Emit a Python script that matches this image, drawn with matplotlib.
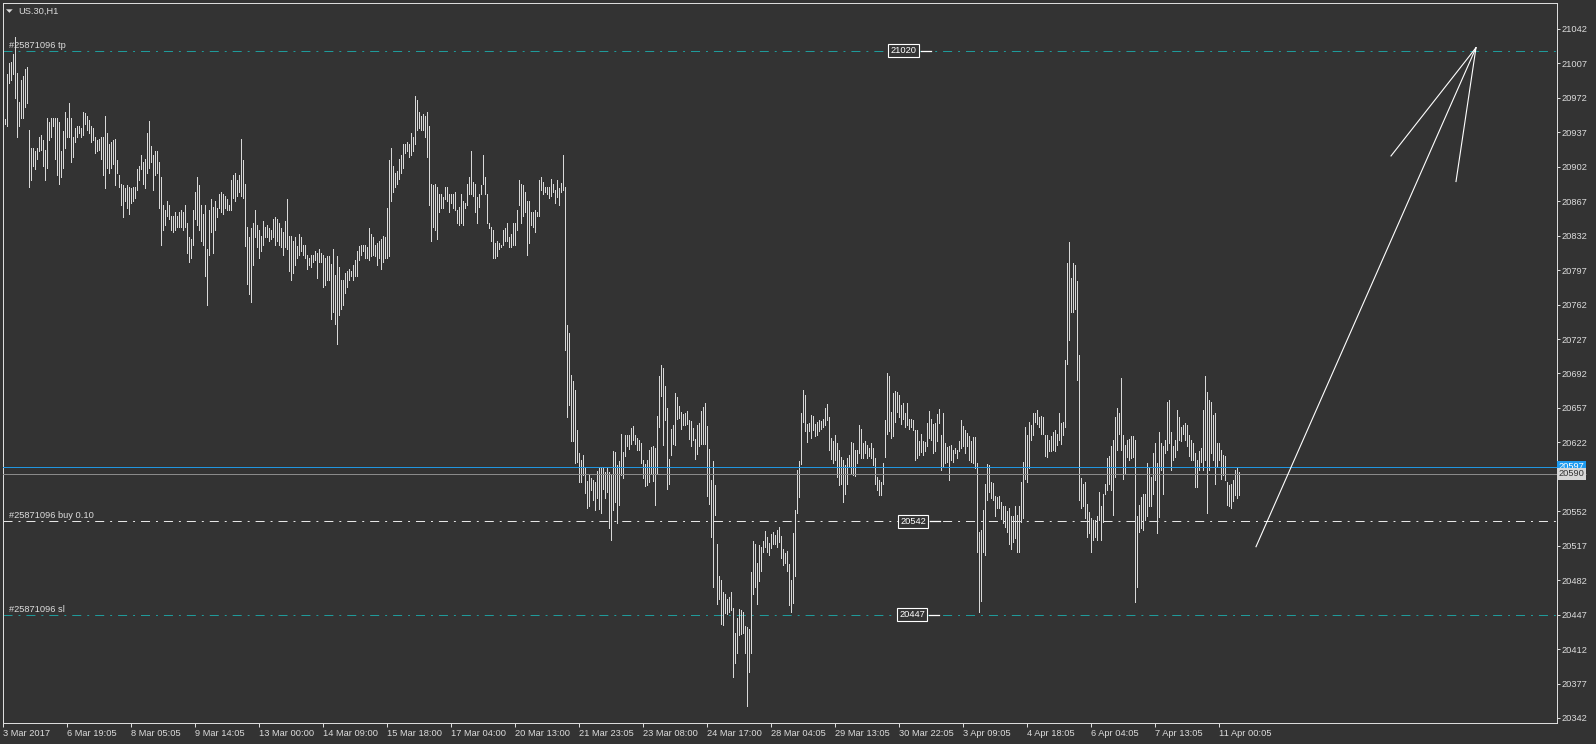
import matplotlib
matplotlib.use('Agg')
import matplotlib.pyplot as plt
import matplotlib.transforms as mtransforms
from matplotlib.patches import Polygon
from matplotlib import rcParams

rcParams['font.family'] = ['Liberation Sans', 'DejaVu Sans']
rcParams['font.size'] = 6.7
rcParams['lines.scale_dashes'] = False

symbol = 'US.30,H1'
order_id = '#25871096'
tp_price = 21020
open_price = 20542
sl_price = 20447
ask_price = 20597
bid_price = 20590

# H1 bar highs / lows, oldest first
bar_high = [
    20958, 20951, 20996, 21007, 21008, 21017, 21034, 20997, 20968, 20990, 20994, 21001,
    21003, 20939, 20921, 20921, 20918, 20921, 20932, 20934, 20929, 20919, 20952, 20947,
    20952, 20952, 20952, 20952, 20947, 20918, 20938, 20958, 20952, 20967, 20952, 20932,
    20941, 20943, 20943, 20941, 20958, 20957, 20954, 20950, 20943, 20941, 20932, 20929,
    20930, 20932, 20932, 20954, 20936, 20925, 20927, 20929, 20930, 20909, 20894, 20885,
    20883, 20880, 20883, 20881, 20880, 20881, 20881, 20900, 20903, 20914, 20907, 20910,
    20936, 20948, 20923, 20914, 20918, 20918, 20907, 20892, 20863, 20858, 20867, 20863,
    20852, 20852, 20856, 20852, 20856, 20858, 20856, 20863, 20845, 20831, 20829, 20858,
    20876, 20892, 20883, 20863, 20854, 20863, 20818, 20858, 20869, 20861, 20867, 20860,
    20874, 20876, 20874, 20872, 20869, 20863, 20889, 20894, 20896, 20889, 20894, 20930,
    20909, 20885, 20841, 20831, 20840, 20845, 20858, 20843, 20838, 20832, 20847, 20841,
    20843, 20840, 20838, 20849, 20851, 20849, 20845, 20840, 20836, 20847, 20869, 20832,
    20832, 20827, 20831, 20822, 20834, 20831, 20823, 20823, 20812, 20809, 20812, 20812,
    20816, 20814, 20818, 20814, 20812, 20809, 20811, 20811, 20803, 20818, 20792, 20811,
    20800, 20787, 20787, 20794, 20796, 20798, 20796, 20802, 20807, 20816, 20822, 20823,
    20823, 20823, 20820, 20840, 20834, 20831, 20823, 20825, 20827, 20829, 20832, 20831,
    20860, 20909, 20921, 20903, 20896, 20898, 20910, 20914, 20925, 20925, 20927, 20925,
    20936, 20932, 20974, 20970, 20958, 20954, 20956, 20954, 20958, 20943, 20885, 20883,
    20885, 20881, 20874, 20874, 20871, 20881, 20881, 20874, 20874, 20874, 20876, 20858,
    20861, 20874, 20867, 20865, 20885, 20892, 20918, 20887, 20885, 20871, 20874, 20883,
    20914, 20892, 20874, 20845, 20841, 20838, 20825, 20827, 20825, 20823, 20838, 20840,
    20845, 20831, 20834, 20845, 20845, 20858, 20889, 20885, 20883, 20876, 20867, 20867,
    20856, 20856, 20858, 20856, 20889, 20892, 20887, 20881, 20881, 20881, 20890, 20885,
    20878, 20889, 20880, 20886, 20914,
    20881, 20741, 20733, 20690, 20684, 20675, 20635, 20611, 20604, 20609, 20596, 20583,
    20589, 20586, 20584, 20582, 20593, 20597, 20597, 20596, 20592, 20597, 20592, 20590,
    20613, 20612, 20599, 20603, 20631, 20612, 20629, 20630, 20630, 20637, 20639, 20630,
    20626, 20624, 20621, 20604, 20600, 20604, 20614, 20617, 20618, 20616, 20649, 20689,
    20701, 20698, 20679, 20657, 20605, 20636, 20640, 20672, 20668, 20659, 20653, 20651,
    20652, 20654, 20645, 20644, 20637, 20625, 20640, 20642, 20654, 20658, 20662, 20639,
    20615, 20584, 20603, 20579, 20519, 20486, 20482, 20470, 20468, 20463, 20465, 20470,
    20454, 20428, 20444, 20453, 20452, 20450, 20435, 20434, 20432, 20490, 20522, 20519,
    20499, 20518, 20516, 20522, 20532, 20526, 20520, 20529, 20531, 20528, 20533, 20536,
    20527, 20514, 20510, 20512, 20498, 20482, 20530, 20553, 20594, 20603, 20652, 20675,
    20670, 20641, 20642,
    20650, 20649, 20641, 20643, 20645, 20644, 20646, 20657, 20661, 20648, 20626, 20623,
    20630, 20621, 20614, 20607, 20604, 20599, 20606, 20609, 20622, 20621, 20614, 20614,
    20640, 20636, 20621, 20623, 20619, 20616, 20621, 20616, 20606, 20587, 20584, 20582,
    20601, 20645, 20692, 20689, 20653, 20672, 20674, 20673, 20670, 20660, 20662, 20652,
    20662, 20646, 20646, 20645, 20635, 20635, 20623, 20631, 20623, 20622, 20642, 20654,
    20646, 20641, 20642, 20651, 20656, 20630, 20652, 20621, 20617, 20618, 20619, 20614,
    20616, 20614, 20623, 20645, 20639, 20635, 20632, 20628, 20623, 20627, 20627, 20601,
    20531, 20533, 20553, 20580, 20600, 20599, 20582, 20581, 20568, 20567, 20568, 20561,
    20557, 20557, 20552, 20555, 20547, 20547, 20557, 20548, 20557, 20582, 20602, 20638,
    20630, 20643, 20640, 20652, 20652, 20655, 20648, 20649, 20648, 20630, 20630, 20624,
    20628, 20633, 20635, 20631, 20652, 20642, 20643, 20706, 20804, 20826, 20789, 20804,
    20802, 20786, 20711, 20586, 20580, 20582, 20559, 20551, 20545, 20543, 20543, 20547,
    20572, 20557, 20570, 20580, 20606, 20608, 20618, 20624, 20648, 20657, 20652, 20687,
    20630, 20619, 20624, 20625, 20628, 20628, 20624, 20547, 20558, 20567, 20570, 20570,
    20601, 20596, 20587, 20611, 20621, 20601, 20633, 20621, 20618, 20624, 20663, 20665,
    20633, 20618, 20624, 20655, 20648, 20638, 20640, 20642, 20640, 20630, 20624, 20621,
    20611, 20604, 20613, 20616, 20655, 20689, 20673, 20665, 20663, 20650, 20652, 20621,
    20621, 20614, 20609, 20608, 20582,
    20579, 20580, 20584, 20594, 20596, 20592,
]
bar_low = [
    20933, 20945, 20943, 20987, 20990, 20996, 20972, 20932, 20943, 20952, 20952, 20963,
    20967, 20881, 20889, 20903, 20900, 20910, 20918, 20919, 20903, 20889, 20901, 20929,
    20932, 20943, 20910, 20894, 20885, 20892, 20901, 20921, 20932, 20932, 20907, 20912,
    20927, 20932, 20936, 20932, 20934, 20945, 20939, 20936, 20927, 20929, 20916, 20918,
    20919, 20910, 20894, 20880, 20901, 20896, 20901, 20905, 20883, 20896, 20881, 20863,
    20851, 20867, 20860, 20854, 20865, 20867, 20870, 20878, 20889, 20900, 20885, 20880,
    20896, 20901, 20907, 20878, 20894, 20896, 20860, 20823, 20838, 20843, 20852, 20849,
    20838, 20836, 20838, 20841, 20841, 20841, 20838, 20841, 20814, 20805, 20809, 20823,
    20849, 20843, 20838, 20827, 20823, 20791, 20762, 20812, 20836, 20814, 20838, 20851,
    20860, 20856, 20854, 20860, 20858, 20858, 20858, 20870, 20867, 20872, 20876, 20872,
    20870, 20822, 20783, 20773, 20765, 20802, 20831, 20820, 20809, 20816, 20823, 20831,
    20831, 20827, 20829, 20831, 20823, 20827, 20823, 20820, 20812, 20820, 20818, 20796,
    20787, 20794, 20802, 20809, 20812, 20816, 20812, 20809, 20798, 20802, 20800, 20805,
    20807, 20789, 20805, 20805, 20780, 20782, 20787, 20787, 20747, 20754, 20742, 20722,
    20751, 20758, 20762, 20774, 20780, 20787, 20791, 20787, 20791, 20791, 20807, 20812,
    20816, 20809, 20809, 20807, 20811, 20812, 20811, 20802, 20809, 20798, 20805, 20809,
    20809, 20811, 20867, 20876, 20881, 20885, 20890, 20896, 20901, 20916, 20918, 20912,
    20914, 20918, 20925, 20939, 20941, 20939, 20939, 20932, 20912, 20863, 20827, 20841,
    20838, 20829, 20856, 20860, 20860, 20869, 20867, 20856, 20865, 20860, 20858, 20845,
    20843, 20845, 20843, 20860, 20863, 20874, 20874, 20872, 20856, 20845, 20861, 20874,
    20885, 20874, 20845, 20840, 20827, 20809, 20809, 20811, 20818, 20820, 20823, 20827,
    20827, 20820, 20820, 20823, 20823, 20838, 20863, 20845, 20852, 20856, 20812, 20825,
    20843, 20841, 20836, 20852, 20852, 20878, 20874, 20876, 20874, 20870, 20872, 20876,
    20865, 20871, 20863, 20876, 20878,
    20716, 20648, 20660, 20623, 20623, 20601, 20602, 20582, 20582, 20589, 20571, 20555,
    20557, 20574, 20563, 20553, 20565, 20554, 20550, 20575, 20565, 20572, 20535, 20523,
    20553, 20561, 20540, 20558, 20589, 20586, 20608, 20618, 20615, 20620, 20624, 20620,
    20614, 20614, 20601, 20586, 20578, 20579, 20582, 20591, 20583, 20558, 20590, 20638,
    20669, 20619, 20645, 20575, 20580, 20609, 20620, 20619, 20646, 20647, 20636, 20640,
    20640, 20641, 20625, 20618, 20624, 20605, 20610, 20618, 20620, 20620, 20620, 20568,
    20559, 20526, 20475, 20548, 20458, 20463, 20437, 20436, 20449, 20448, 20450, 20452,
    20384, 20398, 20408, 20426, 20427, 20428, 20408, 20354, 20389, 20408, 20468, 20475,
    20458, 20481, 20491, 20511, 20516, 20511, 20508, 20515, 20519, 20519, 20516, 20521,
    20505, 20497, 20499, 20491, 20457, 20450, 20459, 20486, 20550, 20567, 20600, 20643,
    20634, 20622, 20634,
    20626, 20635, 20628, 20630, 20634, 20636, 20638, 20640, 20645, 20614, 20605, 20601,
    20604, 20587, 20579, 20580, 20561, 20570, 20580, 20598, 20591, 20589, 20588, 20601,
    20611, 20606, 20606, 20611, 20606, 20608, 20606, 20599, 20580, 20574, 20569, 20569,
    20580, 20607, 20631, 20634, 20626, 20628, 20643, 20653, 20648, 20641, 20646, 20638,
    20640, 20636, 20638, 20635, 20604, 20606, 20609, 20612, 20609, 20613, 20618, 20626,
    20624, 20611, 20613, 20623, 20642, 20594, 20597, 20601, 20602, 20584, 20604, 20602,
    20611, 20606, 20613, 20616, 20618, 20611, 20618, 20604, 20602, 20601, 20596, 20511,
    20450, 20461, 20511, 20508, 20563, 20572, 20565, 20563, 20547, 20555, 20555, 20544,
    20540, 20536, 20531, 20519, 20514, 20521, 20525, 20511, 20511, 20541, 20545, 20585,
    20582, 20596, 20624, 20630, 20643, 20641, 20638, 20631, 20631, 20608, 20607, 20613,
    20613, 20614, 20613, 20619, 20624, 20620, 20630, 20638, 20702, 20726, 20754, 20754,
    20757, 20685, 20563, 20555, 20557, 20545, 20526, 20530, 20511, 20523, 20526, 20523,
    20543, 20523, 20541, 20570, 20574, 20580, 20574, 20548, 20587, 20614, 20631, 20614,
    20585, 20591, 20607, 20604, 20606, 20607, 20460, 20475, 20531, 20535, 20533, 20543,
    20547, 20557, 20557, 20570, 20584, 20530, 20546, 20594, 20570, 20611, 20614, 20621,
    20594, 20604, 20607, 20614, 20624, 20623, 20631, 20624, 20618, 20608, 20604, 20604,
    20577, 20577, 20594, 20602, 20594, 20604, 20550, 20594, 20611, 20604, 20580, 20597,
    20604, 20585, 20589, 20584, 20558,
    20557, 20555, 20562, 20569, 20565, 20569,
]

time_labels = ['3 Mar 2017', '6 Mar 19:05', '8 Mar 05:05', '9 Mar 14:05', '13 Mar 00:00',
               '14 Mar 09:00', '15 Mar 18:00', '17 Mar 04:00', '20 Mar 13:00', '21 Mar 23:05',
               '23 Mar 08:00', '24 Mar 17:00', '28 Mar 04:05', '29 Mar 13:05', '30 Mar 22:05',
               '3 Apr 09:05', '4 Apr 18:05', '6 Apr 04:05', '7 Apr 13:05', '11 Apr 00:05']
bars_per_label = 32
price_ticks = list(range(20342, 21043, 35))

# hand drawn arrow (bar index, price)
arrow_tip = (736.5, 21023)
arrow_tails = [(626.5, 20516), (694, 20913), (726.5, 20887)]

bg = '#333333'
fg = '#dcdcdc'
teal = '#1f9a9a'
dashdot = (0, (6.5, 4.3, 1.4, 4.3))
W, H = 1596, 744


def fig_xy(px, py):
    return px / W, 1 - py / H


fig = plt.figure(figsize=(W / 100, H / 100), dpi=100, facecolor=bg)
ax = fig.add_axes([2.5 / W, 1 - 722.5 / H, 1554 / W, 720 / H], facecolor=bg)

x = list(range(len(bar_high)))
ax.vlines(x, bar_low, bar_high, color='#d8d8d8', linewidth=0.72, antialiased=False, zorder=2)

# order lines
ax.axhline(tp_price, color=teal, lw=0.72, linestyle=dashdot, zorder=1)
ax.axhline(open_price, color='#e6e6e6', lw=0.72, linestyle=dashdot, zorder=1)
ax.axhline(sl_price, color=teal, lw=0.72, linestyle=dashdot, zorder=1)
ax.axhline(ask_price, color='#2196e0', lw=0.72, zorder=3)
ax.axhline(bid_price, color='#8a8a8a', lw=0.72, zorder=3)

for label, price in [('tp', tp_price), ('buy 0.10', open_price), ('sl', sl_price)]:
    ax.annotate(f'{order_id} {label}', xy=(3, price), xytext=(0, 0.5), textcoords='offset points',
                color=fg, va='bottom', ha='left', zorder=4)

for price, xc in [(tp_price, 450.25), (open_price, 455.0), (sl_price, 454.5)]:
    t = ax.text(xc, price, str(price), color='white', ha='center', va='center', zorder=5,
                bbox=dict(boxstyle='square,pad=0.22', fc=bg, ec='white', lw=0.8))
    ax.plot([xc + 8.5, xc + 13.5], [price, price], color='white', lw=0.9, zorder=4)

# arrow
for tx, ty in arrow_tails:
    ax.plot([tx, arrow_tip[0]], [ty, arrow_tip[1]], color='white', lw=0.8, zorder=4)

ax.set_xlim(-0.25, 776.75)
ax.set_ylim(20337.4, 21068.9)

ax.yaxis.tick_right()
ax.set_yticks(price_ticks)
ax.set_yticklabels([str(p) for p in price_ticks])
ax.tick_params(axis='y', colors=fg, length=2.2, width=0.72, pad=1.5, direction='out')

xt = list(range(0, bars_per_label * len(time_labels), bars_per_label))
ax.set_xticks(xt)
ax.set_xticklabels(time_labels)
for lab in ax.get_xticklabels():
    lab.set_ha('left')
ax.tick_params(axis='x', colors=fg, length=3, width=0.72, pad=2, direction='out')

for sp in ax.spines.values():
    sp.set_color(fg)
    sp.set_linewidth(0.72)

# current price tags on the price scale
trans = mtransforms.blended_transform_factory(ax.transAxes, ax.transData)
ax.text(1.0012, ask_price, str(ask_price), transform=trans, color='white', ha='left', va='center',
        clip_on=False, zorder=6, bbox=dict(boxstyle='square,pad=0.18', fc='#1e9bf0', ec='#1e9bf0', lw=0))
ax.text(1.0012, bid_price, str(bid_price), transform=trans, color='#333333', ha='left', va='center',
        clip_on=False, zorder=7, bbox=dict(boxstyle='square,pad=0.18', fc='#d8d8d8', ec='#d8d8d8', lw=0))

# symbol caption
fig.text(*fig_xy(18, 11), symbol, color=fg, ha='left', va='center')
fig.patches.append(Polygon([fig_xy(6, 9.3), fig_xy(12.7, 9.3), fig_xy(9.35, 12.8)], closed=True,
                           transform=fig.transFigure, fc=fg, ec='none', figure=fig))

fig.savefig('out.png', dpi=100, facecolor=bg)
